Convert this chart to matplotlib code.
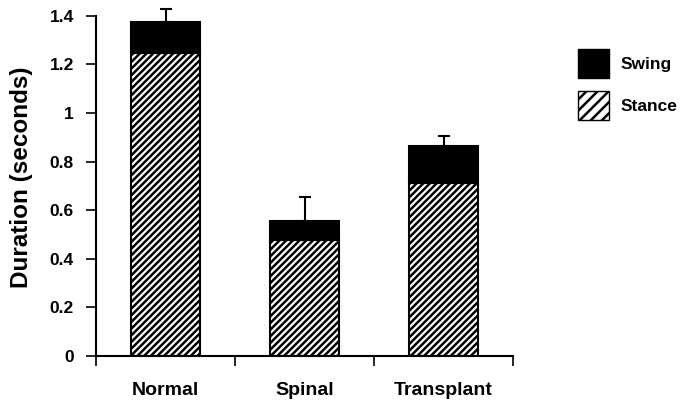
import matplotlib
matplotlib.use("Agg")
import matplotlib.pyplot as plt
from matplotlib.patches import Patch
import numpy as np

plt.rcParams['font.family'] = ['Liberation Sans', 'DejaVu Sans']
plt.rcParams['font.weight'] = 'bold'
plt.rcParams['hatch.linewidth'] = 1.8

categories = ['Normal', 'Spinal', 'Transplant']
stance = [1.246, 0.477, 0.713]
swing = [0.130, 0.080, 0.151]
swing_err = [0.053, 0.096, 0.042]
yticks = [0, 0.2, 0.4, 0.6, 0.8, 1.0, 1.2, 1.4]
ytick_labels = ['0', '0.2', '0.4', '0.6', '0.8', '1', '1.2', '1.4']

fig = plt.figure(figsize=(6.83, 4.01), dpi=100)
ax = fig.add_axes([96/683, 1 - 356/401, 417/683, (356 - 15.8)/401])

x = np.arange(len(categories))
w = 0.5
ax.bar(x, stance, width=w, color='white', edgecolor='black', hatch='/////',
       linewidth=1.5, label='Stance', zorder=2)
ax.bar(x, swing, width=w, bottom=stance, color='black', edgecolor='black',
       linewidth=1.5, label='Swing', zorder=2)
tops = np.array(stance) + np.array(swing)
ax.errorbar(x, tops, yerr=[np.zeros(len(x)), swing_err], fmt='none',
            ecolor='black', elinewidth=1.5, capsize=4.5, capthick=1.5,
            clip_on=False, zorder=3)

ax.set_xlim(-0.5, 2.5)
ax.set_ylim(0, 1.4)
ax.set_yticks(yticks)
ax.set_yticklabels(ytick_labels, fontsize=12.5, fontweight='bold')
ax.set_xticks([-0.5, 0.5, 1.5, 2.5])
ax.set_xticklabels([])
ax.set_xticks(x, minor=True)
ax.set_xticklabels(categories, minor=True, fontsize=14, fontweight='bold')
ax.tick_params(axis='x', which='minor', length=0, pad=19)
ax.tick_params(axis='x', which='major', length=7, width=1.2, direction='out')
ax.tick_params(axis='y', length=7, width=1.2, direction='out', pad=9)

for s in ['top', 'right']:
    ax.spines[s].set_visible(False)
for s in ['left', 'bottom']:
    ax.spines[s].set_linewidth(1.5)

ax.set_ylabel('Duration (seconds)', fontsize=17.5, fontweight='bold')
ax.yaxis.set_label_coords(-0.151, 0.524)

handles = [Patch(facecolor='black', edgecolor='black', label='Swing'),
           Patch(facecolor='white', edgecolor='black', hatch='///', label='Stance')]
fig.legend(handles=handles, loc='upper left', bbox_to_anchor=(578/683, 1 - 49/401),
           frameon=False, prop={'weight': 'bold', 'size': 12.5},
           handlelength=1.8, handleheight=2.2, labelspacing=0.72,
           handletextpad=0.65, borderpad=0, borderaxespad=0)

fig.savefig('out.png', dpi=100)
